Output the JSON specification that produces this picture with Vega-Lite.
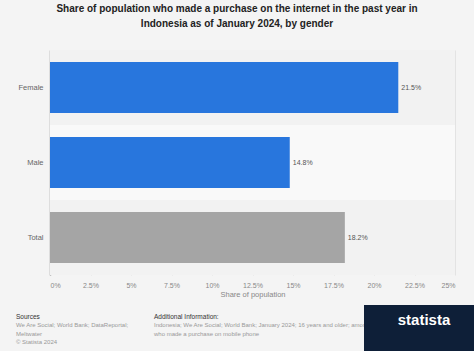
{
  "$schema": "https://vega.github.io/schema/vega-lite/v6.json",
  "background": "#f4f4f4",
  "padding": {"top": 4, "left": 16, "right": 0, "bottom": 0},
  "config": {
    "view": {"stroke": null},
    "font": "Liberation Sans"
  },
  "title": {
    "text": ["Share of population who made a purchase on the internet in the past year in", "Indonesia as of January 2024, by gender"],
    "fontSize": 10,
    "fontWeight": "bold",
    "color": "#222222",
    "lineHeight": 15,
    "anchor": "middle",
    "dx": -8,
    "offset": 21
  },
  "spacing": 7,
  "vconcat": [
    {
      "width": 405,
      "height": 225,
      "data": {
        "values": [
          {"gender": "Female", "share": 21.5, "kind": "gender"},
          {"gender": "Male", "share": 14.8, "kind": "gender"},
          {"gender": "Total", "share": 18.2, "kind": "total"}
        ]
      },
      "transform": [{"calculate": "format(datum.share, '.1f') + '%'", "as": "label"}],
      "layer": [
        {
          "mark": {"type": "rect"},
          "encoding": {
            "y": {"field": "gender", "type": "nominal", "sort": ["Female", "Male", "Total"], "axis": null, "scale": {"paddingInner": 0, "paddingOuter": 0}},
            "fill": {"condition": {"test": "datum.gender === 'Male'", "value": "#f9f9f9"}, "value": "#f2f2f2"}
          }
        },
        {
          "layer": [
            {
              "mark": {"type": "bar", "orient": "horizontal"},
              "encoding": {
                "y": {
                  "field": "gender", "type": "nominal", "sort": ["Female", "Male", "Total"],
                  "scale": {"paddingInner": 0.32, "paddingOuter": 0.16},
                  "axis": {"title": null, "labelFontSize": 7.5, "labelColor": "#666666", "labelPadding": 7, "ticks": false, "domain": true, "domainColor": "#999999", "domainWidth": 1.5, "minExtent": 34, "maxExtent": 34}
                },
                "x": {
                  "field": "share", "type": "quantitative",
                  "scale": {"domain": [0, 25], "nice": false},
                  "axis": {"title": "Share of population", "titleFontSize": 7.5, "titleFontWeight": "normal", "titleColor": "#888888", "titlePadding": 2, "values": [0, 2.5, 5, 7.5, 10, 12.5, 15, 17.5, 20, 22.5, 25], "labelExpr": "datum.value + '%'", "labelFontSize": 7, "labelColor": "#888888", "labelPadding": 6, "ticks": false, "domain": false, "grid": true, "gridColor": "#e3e3e3", "gridWidth": 1}
                },
                "color": {"field": "kind", "type": "nominal", "scale": {"domain": ["gender", "total"], "range": ["#2876dd", "#a5a5a5"]}, "legend": null}
              }
            },
            {
              "mark": {"type": "text", "align": "left", "baseline": "middle", "dx": 3, "fontSize": 7, "color": "#555555"},
              "encoding": {
                "y": {"field": "gender", "type": "nominal", "sort": ["Female", "Male", "Total"]},
                "x": {"field": "share", "type": "quantitative"},
                "text": {"field": "label"}
              }
            }
          ]
        }
      ],
      "resolve": {"scale": {"y": "independent"}, "axis": {"y": "independent"}}
    },
    {
      "bounds": "flush",
      "spacing": 0,
      "hconcat": [
        {
          "width": 314,
          "height": 46,
          "data": {
            "values": [
              {"section": "Sources", "line": 0, "kind": "head", "text": "Sources"},
              {"section": "Sources", "line": 1, "kind": "body", "text": "We Are Social; World Bank; DataReportal;"},
              {"section": "Sources", "line": 2, "kind": "body", "text": "Meltwater"},
              {"section": "Sources", "line": 3, "kind": "body", "text": "© Statista 2024"},
              {"section": "Additional Information", "line": 0, "kind": "head", "text": "Additional Information:"},
              {"section": "Additional Information", "line": 1, "kind": "body", "text": "Indonesia; We Are Social; World Bank; January 2024; 16 years and older; among those that also"},
              {"section": "Additional Information", "line": 2, "kind": "body", "text": "who made a purchase on mobile phone"}
            ]
          },
          "layer": [
            {
              "transform": [{"filter": "datum.kind === 'head'"}],
              "mark": {"type": "text", "align": "left", "baseline": "middle", "fontSize": 6.5, "color": "#333333"},
              "encoding": {
                "x": {"field": "section", "type": "nominal", "scale": {"type": "point", "domain": ["Sources", "Additional Information"], "range": [-34, 104], "padding": 0}, "axis": null},
                "y": {"field": "line", "type": "ordinal", "scale": {"type": "point", "domain": [0, 1, 2, 3], "range": [12, 37], "padding": 0}, "axis": null},
                "text": {"field": "text"}
              }
            },
            {
              "transform": [{"filter": "datum.kind === 'body'"}],
              "mark": {"type": "text", "align": "left", "baseline": "middle", "fontSize": 6, "color": "#999999"},
              "encoding": {
                "x": {"field": "section", "type": "nominal", "scale": {"type": "point", "domain": ["Sources", "Additional Information"], "range": [-34, 104], "padding": 0}, "axis": null},
                "y": {"field": "line", "type": "ordinal", "scale": {"type": "point", "domain": [0, 1, 2, 3], "range": [12, 37], "padding": 0}, "axis": null},
                "text": {"field": "text"}
              }
            }
          ]
        },
        {
          "width": 110,
          "height": 46,
          "view": {"fill": "#0e1f38", "stroke": null},
          "data": {"values": [{"brand": "statista"}]},
          "mark": {"type": "text", "fontSize": 15, "fontWeight": "bold", "color": "#ffffff", "dy": -8, "dx": 5},
          "encoding": {"text": {"field": "brand"}}
        }
      ]
    }
  ]
}
